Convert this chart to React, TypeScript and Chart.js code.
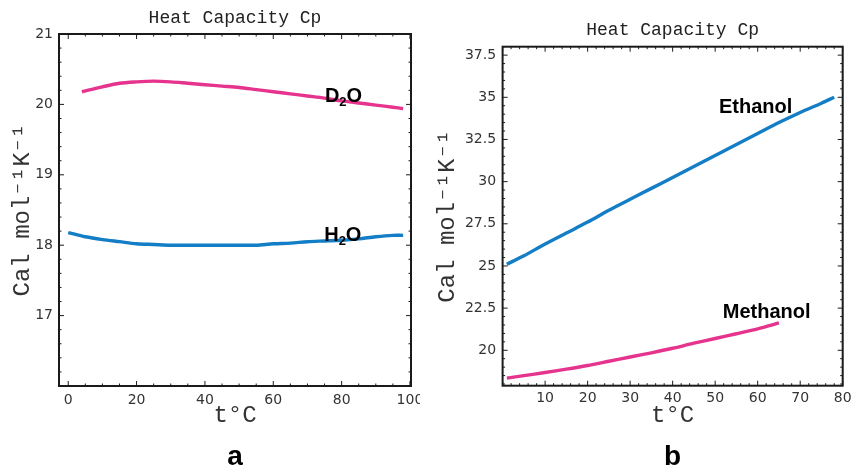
import React, { useEffect, useRef } from "react";
import { Chart, registerables } from "chart.js";

Chart.register(...registerables);

// ---------- Data (panel a: water) ----------
const h2oT = [0, 5, 10, 15, 20, 25, 30, 35, 40, 45, 50, 55, 60, 65, 70, 75, 80, 85, 90, 95, 98];
const h2oCp = [18.18, 18.12, 18.08, 18.05, 18.02, 18.01, 18.0, 18.0, 18.0, 18.0, 18.0, 18.0, 18.02, 18.03, 18.05, 18.06, 18.07, 18.09, 18.12, 18.14, 18.14];
const d2oT = [4, 10, 15, 20, 25, 30, 35, 40, 45, 50, 55, 60, 65, 70, 75, 80, 85, 90, 95, 98];
const d2oCp = [20.18, 20.25, 20.3, 20.32, 20.33, 20.32, 20.3, 20.28, 20.26, 20.24, 20.21, 20.18, 20.15, 20.12, 20.09, 20.05, 20.02, 19.99, 19.96, 19.94];

// ---------- Data (panel b: alcohols) ----------
const ethanolT = [1, 5, 10, 15, 20, 25, 30, 35, 40, 45, 50, 55, 60, 65, 70, 75, 78];
const ethanolCp = [25.1, 25.6, 26.3, 26.95, 27.6, 28.3, 28.95, 29.6, 30.25, 30.9, 31.55, 32.2, 32.85, 33.5, 34.1, 34.65, 35.0];
const methanolT = [1, 5, 10, 15, 20, 25, 30, 35, 40, 45, 50, 55, 60, 65];
const methanolCp = [18.35, 18.5, 18.68, 18.88, 19.1, 19.35, 19.6, 19.85, 20.12, 20.42, 20.7, 20.98, 21.27, 21.62];

// ---------- Tick labels ----------
const aXTicks = [0, 20, 40, 60, 80, 100];
const aYTicks = [17, 18, 19, 20, 21];
const bXTicks = [10, 20, 30, 40, 50, 60, 70, 80];
const bYTicks = [20, 22.5, 25, 27.5, 30, 32.5, 35, 37.5];

const TITLE = "Heat Capacity Cp";
const X_TITLE = "t°C";
const Y_TITLE = "Cal mol⁻¹K⁻¹";

const PINK = "#e5338e";
const BLUE = "#137dc5";
const MONO = "'Liberation Mono', 'DejaVu Sans Mono', monospace";
const SANS = "'DejaVu Sans', sans-serif";
const BOLD = "'Liberation Sans', Arial, sans-serif";

const pts = (xs: number[], ys: number[]) => xs.map((x, i) => ({ x, y: ys[i] }));

const framePlugin = {
  id: "frameTicks",
  afterDatasetsDraw(chart: any, _args: any, opts: any) {
    const { ctx, chartArea: a, scales } = chart;
    const x = scales.x;
    const y = scales.y;
    ctx.save();
    ctx.strokeStyle = "#1a1a1a";
    ctx.lineWidth = 1;
    const line = (x1: number, y1: number, x2: number, y2: number) => {
      ctx.beginPath();
      ctx.moveTo(x1, y1);
      ctx.lineTo(x2, y2);
      ctx.stroke();
    };
    const each = (scale: any, minor: number, major: number, fn: (px: number, len: number) => void) => {
      const i0 = Math.ceil(scale.min / minor - 1e-9);
      const i1 = Math.floor(scale.max / minor + 1e-9);
      for (let i = i0; i <= i1; i++) {
        const v = i * minor;
        const r = v / major;
        const isMajor = Math.abs(r - Math.round(r)) < 1e-6;
        fn(scale.getPixelForValue(v), isMajor ? 5 : 2.5);
      }
    };
    each(x, opts.xMinor, opts.xMajor, (px, len) => {
      line(px, a.bottom, px, a.bottom - len);
      line(px, a.top, px, a.top + len);
    });
    each(y, opts.yMinor, opts.yMajor, (py, len) => {
      line(a.left, py, a.left + len, py);
      line(a.right, py, a.right - len, py);
    });
    ctx.lineWidth = 2;
    ctx.strokeRect(a.left, a.top, a.right - a.left, a.bottom - a.top);

    // curve labels
    ctx.fillStyle = "#000";
    ctx.textBaseline = "alphabetic";
    ctx.textAlign = "left";
    for (const lab of opts.labels) {
      let px = x.getPixelForValue(lab.x);
      const py = y.getPixelForValue(lab.y);
      for (const part of lab.parts) {
        const sub = part.sub;
        ctx.font = `bold ${sub ? 13 : 20}px ${BOLD}`;
        ctx.fillText(part.t, px, py + (sub ? 4 : 0));
        px += ctx.measureText(part.t).width;
      }
    }
    // panel letter
    ctx.font = `bold 28px ${BOLD}`;
    ctx.textAlign = "center";
    ctx.fillText(opts.panel, (a.left + a.right) / 2, 465);
    ctx.restore();
  },
};

function makeConfig(p: any) {
  return {
    type: "line",
    data: { datasets: p.datasets },
    plugins: [framePlugin],
    options: {
      animation: false,
      responsive: false,
      maintainAspectRatio: false,
      events: [],
      elements: { point: { radius: 0 }, line: { borderWidth: 3.4, tension: 0.3 } },
      layout: { padding: { left: 0, right: p.padRight, top: p.padTop, bottom: 0 } },
      plugins: {
        legend: { display: false },
        tooltip: { enabled: false },
        title: {
          display: true,
          text: TITLE,
          fullSize: false,
          color: "#222",
          font: { family: MONO, size: 18, weight: "normal", lineHeight: 1 },
          padding: { top: p.titleTop, bottom: p.titleBottom },
        },
        frameTicks: p.frame,
      },
      scales: {
        x: {
          type: "linear",
          min: p.xMin,
          max: p.xMax,
          grid: { display: false, drawTicks: false },
          border: { display: false },
          afterBuildTicks: (s: any) => {
            s.ticks = p.xTicks.map((v: number) => ({ value: v }));
          },
          ticks: { color: "#333", font: { family: SANS, size: 14 }, padding: p.xTickPad, maxRotation: 0, autoSkip: false },
          title: {
            display: true,
            text: X_TITLE,
            color: "#333",
            font: { family: MONO, size: 24, lineHeight: 1 },
            padding: { top: 0, bottom: 40 },
          },
          afterFit: (s: any) => {
            s.height = p.xHeight;
            s.paddingLeft = 0;
            s.paddingRight = 0;
          },
        },
        y: {
          type: "linear",
          min: p.yMin,
          max: p.yMax,
          grid: { display: false, drawTicks: false },
          border: { display: false },
          afterBuildTicks: (s: any) => {
            s.ticks = p.yTicks.map((v: number) => ({ value: v }));
          },
          ticks: { color: "#333", font: { family: SANS, size: 14 }, padding: p.yTickPad, autoSkip: false },
          title: {
            display: true,
            text: Y_TITLE,
            color: "#333",
            font: { family: MONO, size: 24, lineHeight: 1 },
            padding: { top: p.yTitlePad, bottom: 0 },
          },
          afterFit: (s: any) => {
            s.width = p.yWidth;
            s.paddingTop = 0;
            s.paddingBottom = 0;
          },
        },
      },
    },
  };
}

function Panel({ config, left, width }: { config: any; left: number; width: number }) {
  const ref = useRef<HTMLCanvasElement | null>(null);
  useEffect(() => {
    if (!ref.current) return;
    const chart = new Chart(ref.current, config);
    return () => chart.destroy();
  }, [config]);
  return (
    <canvas
      ref={ref}
      width={width}
      height={468}
      style={{ position: "absolute", left, top: 0, width, height: 468 }}
    />
  );
}

const configA = makeConfig({
  datasets: [
    { data: pts(d2oT, d2oCp), borderColor: PINK },
    { data: pts(h2oT, h2oCp), borderColor: BLUE },
  ],
  xMin: -2.7,
  xMax: 100.3,
  yMin: 16,
  yMax: 21,
  xTicks: aXTicks,
  yTicks: aYTicks,
  padRight: 9,
  padTop: 0,
  titleTop: 9,
  titleBottom: 7,
  xHeight: 82,
  yWidth: 59,
  xTickPad: 6,
  yTickPad: 6,
  yTitlePad: 11,
  frame: {
    xMinor: 5,
    xMajor: 20,
    yMinor: 0.2,
    yMajor: 1,
    panel: "a",
    labels: [
      { x: 75.1, y: 20.04, parts: [{ t: "D" }, { t: "2", sub: true }, { t: "O" }] },
      { x: 74.9, y: 18.06, parts: [{ t: "H" }, { t: "2", sub: true }, { t: "O" }] },
    ],
  },
});

const configB = makeConfig({
  datasets: [
    { data: pts(ethanolT, ethanolCp), borderColor: BLUE },
    { data: pts(methanolT, methanolCp), borderColor: PINK },
  ],
  xMin: 0,
  xMax: 80,
  yMin: 17.9,
  yMax: 38,
  xTicks: bXTicks,
  yTicks: bYTicks,
  padRight: 8.3,
  padTop: 0,
  titleTop: 21,
  titleBottom: 7.7,
  xHeight: 82.3,
  yWidth: 82.6,
  xTickPad: 4.5,
  yTickPad: 6.5,
  yTitlePad: 16,
  frame: {
    xMinor: 2,
    xMajor: 10,
    yMinor: 0.5,
    yMajor: 2.5,
    panel: "b",
    labels: [
      { x: 50.9, y: 34.05, parts: [{ t: "Ethanol" }] },
      { x: 51.8, y: 21.9, parts: [{ t: "Methanol" }] },
    ],
  },
});

export default function App() {
  return (
    <div style={{ position: "absolute", left: 0, top: 0, width: 851, height: 468, background: "#fff" }}>
      <Panel config={configA} left={0} width={420} />
      <Panel config={configB} left={420} width={431} />
    </div>
  );
}
